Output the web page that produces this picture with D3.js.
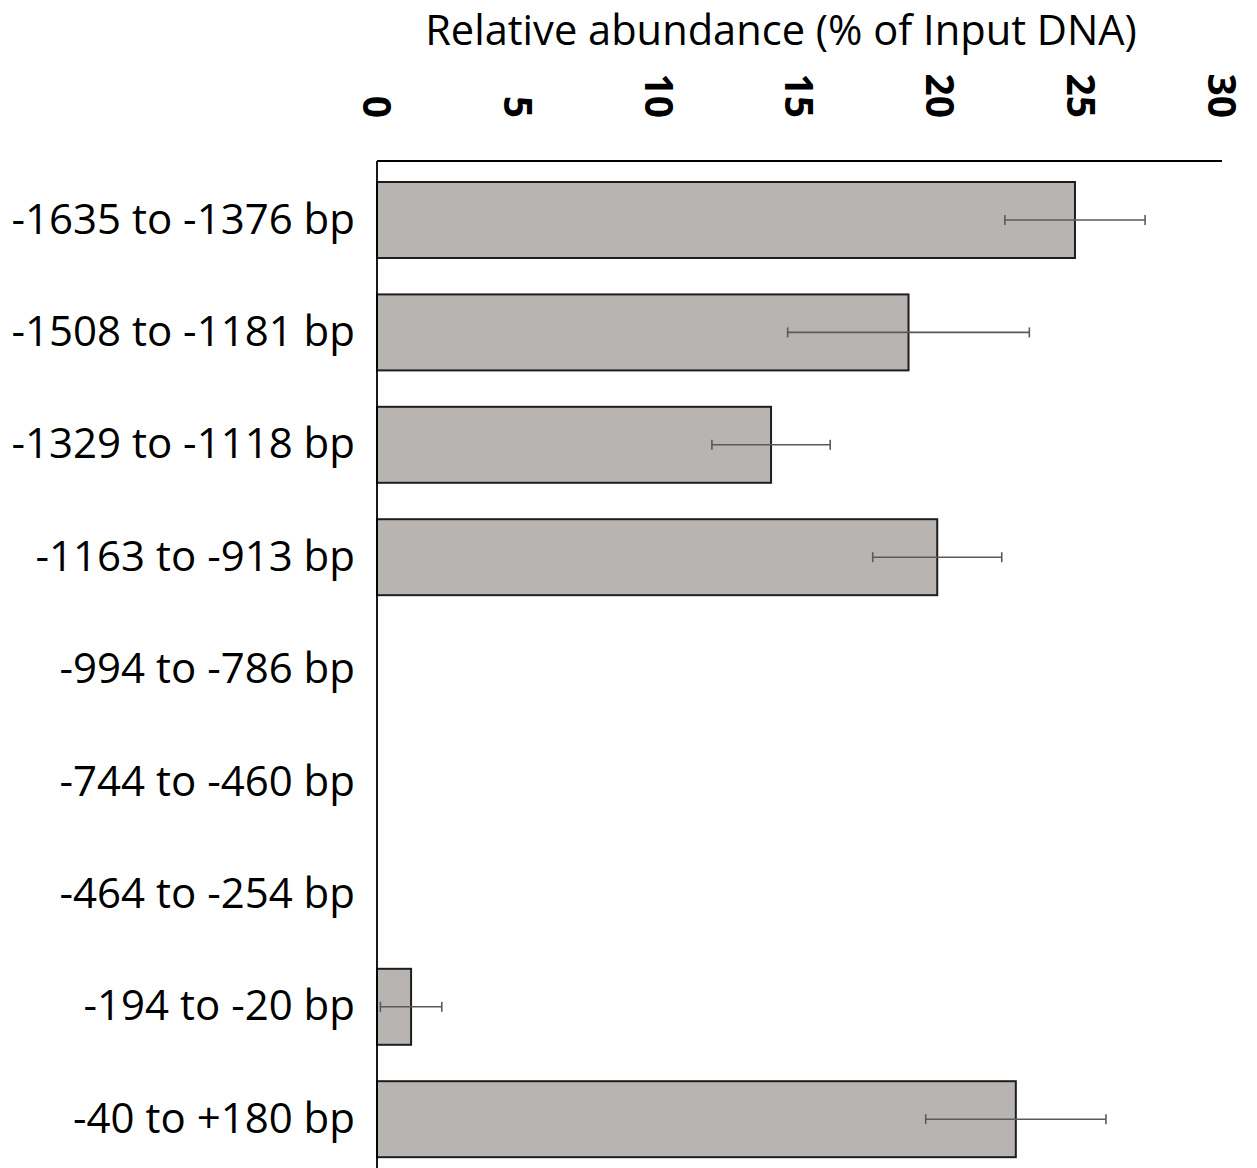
<!DOCTYPE html>
<html>
<head>
<meta charset="utf-8">
<script src="https://cdn.jsdelivr.net/npm/d3@7"></script>
<style>
  html, body { margin: 0; padding: 0; background: #fff; }
  svg { display: block; }
</style>
</head>
<body>
<svg id="chart" width="1257" height="1168"></svg>
<script>
const categories = [
  "-1635 to -1376 bp",
  "-1508 to -1181 bp",
  "-1329 to -1118 bp",
  "-1163 to -913 bp",
  "-994 to -786 bp",
  "-744 to -460 bp",
  "-464 to -254 bp",
  "-194 to -20 bp",
  "-40 to +180 bp"
];
const values = [24.78, 18.87, 13.99, 19.89, 0, 0, 0, 1.21, 22.68];
const errors = [2.49, 4.29, 2.1, 2.29, 0, 0, 0, 1.09, 3.2];
const xTicks = [0, 5, 10, 15, 20, 25, 30];
const xTitle = "Relative abundance (% of Input DNA)";

const data = categories.map((c, i) => ({ cat: c, v: values[i], e: errors[i] }));

const svg = d3.select("#chart");
const x0 = 377, x1 = 1222, axisY = 161;

const x = d3.scaleLinear().domain([0, 30]).range([x0, x1]);
const y = d3.scaleBand().domain(categories).range([163.8, 1175.4])
  .paddingInner(0.324).paddingOuter(0.162);

// title
svg.append("text")
  .attr("x", 781).attr("y", 45)
  .attr("text-anchor", "middle")
  .attr("font-family", "'Open Sans', sans-serif")
  .attr("font-size", 41.6)
  .attr("fill", "#000")
  .text(xTitle);

// top axis tick labels (rotated)
svg.append("g").selectAll("text").data(xTicks).join("text")
  .attr("transform", d => `translate(${x(d)},118) rotate(90)`)
  .attr("text-anchor", "end")
  .attr("dy", "0.36em")
  .attr("font-family", "'Open Sans', sans-serif")
  .attr("font-weight", "bold")
  .attr("font-size", 39)
  .attr("fill", "#000")
  .text(d => d);

// bars
const bars = data.filter(d => d.v > 0);
svg.append("g").selectAll("rect").data(bars).join("rect")
  .attr("x", x(0))
  .attr("y", d => y(d.cat))
  .attr("width", d => x(d.v) - x(0))
  .attr("height", y.bandwidth())
  .attr("fill", "#b8b4b1")
  .attr("stroke", "#1e1e1e")
  .attr("stroke-width", 2);

// error bars
const eg = svg.append("g").attr("stroke", "#5a5a5a").attr("stroke-width", 1.6);
bars.forEach(d => {
  const cy = y(d.cat) + y.bandwidth() / 2;
  const l = x(d.v - d.e), r = x(d.v + d.e);
  eg.append("line").attr("x1", l).attr("x2", r).attr("y1", cy).attr("y2", cy);
  eg.append("line").attr("x1", l).attr("x2", l).attr("y1", cy - 5).attr("y2", cy + 5);
  eg.append("line").attr("x1", r).attr("x2", r).attr("y1", cy - 5).attr("y2", cy + 5);
});

// axes lines
svg.append("line").attr("x1", x0).attr("x2", x1).attr("y1", axisY).attr("y2", axisY)
  .attr("stroke", "#000").attr("stroke-width", 1.8);
svg.append("line").attr("x1", x0).attr("x2", x0).attr("y1", axisY).attr("y2", 1168)
  .attr("stroke", "#000").attr("stroke-width", 1.8);

// category labels
svg.append("g").selectAll("text").data(categories).join("text")
  .attr("x", 355)
  .attr("y", d => y(d) + y.bandwidth() / 2 - 1.5)
  .attr("dy", "0.36em")
  .attr("text-anchor", "end")
  .attr("font-family", "'Open Sans', sans-serif")
  .attr("font-size", 42)
  .attr("fill", "#000")
  .text(d => d);
</script>
</body>
</html>
